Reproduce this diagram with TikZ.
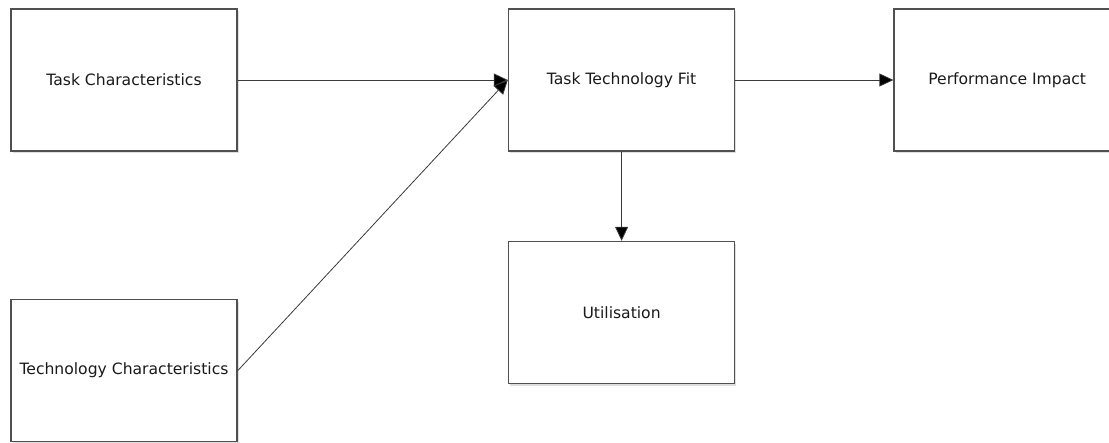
\documentclass[tikz,border=0pt]{standalone}
\usepackage{fontspec}
\setmainfont{DejaVu Sans}
\usepackage{xcolor}
\definecolor{boxedge}{HTML}{505050}
\definecolor{lineink}{HTML}{3A3A3A}
\definecolor{textink}{HTML}{1A1A1A}
\usetikzlibrary{arrows.meta,positioning,shadows}

\begin{document}
\begin{tikzpicture}[font=\fontsize{15.6}{18}\selectfont,node distance=89pt and 270pt,
  ttfbox/.style={draw=boxedge,line width=1.6pt,fill=white,minimum width=226pt,minimum height=142pt,
    inner sep=0pt,text=textink,align=center,
    drop shadow={opacity=0.25,shadow xshift=1.5pt,shadow yshift=-2pt}},
  arr/.style={-{Triangle[length=14pt,width=13pt,fill=black]},lineink,line width=0.8pt}]
  \clip (0,0) rectangle (1109pt,-442pt);
  \fill[white] (0,0) rectangle (1109pt,-442pt);
  \node[ttfbox] (task) at (124pt,-80pt) {Task Characteristics};
  \node[ttfbox,right=of task] (fit) {Task Technology Fit};
  \node[ttfbox,right=158pt of fit] (perf) {Performance Impact};
  \node[ttfbox,below=of fit] (util) {Utilisation};
  \node[ttfbox,below=147pt of task] (tech) {Technology Characteristics};
  \draw[arr](task)--(fit);
  \draw[arr](tech.east)--(fit.west);
  \draw[arr](fit)--(perf);
  \draw[arr](fit)--(util);
\end{tikzpicture}
\end{document}
